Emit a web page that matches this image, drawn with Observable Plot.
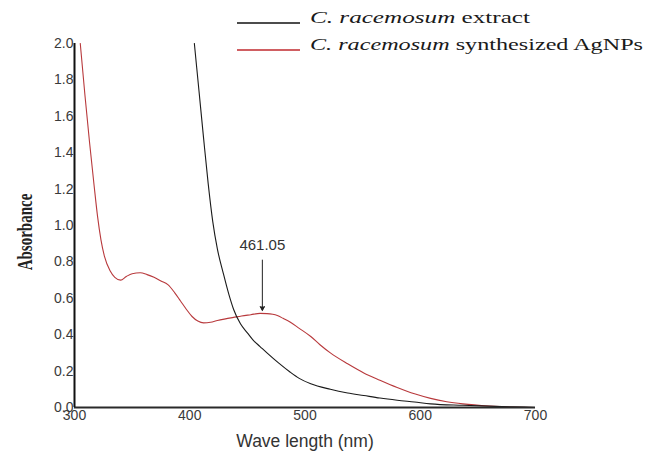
<!DOCTYPE html>
<html><head><meta charset="utf-8">
<script src="https://cdn.jsdelivr.net/npm/d3@7"></script>
<script src="https://cdn.jsdelivr.net/npm/@observablehq/plot@0.6"></script>
<style>
body{margin:0;background:#fff}
#chart{position:relative;width:659px;height:453px}
</style>
</head><body><div id="chart"></div>
<script>
// C. racemosum extract (black)
const extractWavelength = [404, 408, 412, 416, 420, 424, 429, 434, 438, 444, 450, 455, 461, 467, 477, 487, 495, 505, 522, 537, 551, 565, 580, 595, 609, 637, 665, 690, 700];
const extractAbsorbance = [2.0, 1.74, 1.48, 1.23, 1.02, 0.87, 0.74, 0.62, 0.54, 0.46, 0.41, 0.37, 0.335, 0.30, 0.245, 0.195, 0.16, 0.13, 0.10, 0.08, 0.066, 0.052, 0.04, 0.03, 0.02, 0.012, 0.006, 0.002, 0.0];
// C. racemosum synthesized AgNPs (red)
const agnpWavelength = [305, 309, 313, 317, 320, 323, 326, 331, 335, 340, 345, 350, 357, 363, 369, 375, 381, 387, 392, 397, 402, 407, 412, 418, 424, 431, 438, 445, 453, 461, 467, 472, 476, 481, 487, 495, 505, 513, 522, 537, 551, 565, 580, 595, 609, 623, 637, 660, 681, 700];
const agnpAbsorbance = [2.0, 1.72, 1.46, 1.22, 1.05, 0.92, 0.83, 0.75, 0.715, 0.70, 0.72, 0.735, 0.74, 0.73, 0.715, 0.695, 0.675, 0.63, 0.585, 0.54, 0.50, 0.475, 0.465, 0.468, 0.478, 0.487, 0.495, 0.503, 0.51, 0.517, 0.516, 0.512, 0.505, 0.49, 0.47, 0.435, 0.39, 0.345, 0.30, 0.24, 0.19, 0.15, 0.11, 0.075, 0.05, 0.032, 0.02, 0.008, 0.002, 0.0];

const xTicks = [300, 400, 500, 600, 700];
const yTicks = [0, 0.2, 0.4, 0.6, 0.8, 1.0, 1.2, 1.4, 1.6, 1.8, 2.0];
const xLabel = ["Wave length (nm)"];
const yLabel = "Absorbance";
const legendItalic = ["C. racemosum", "C. racemosum"];
const legendRest = [" extract", " synthesized AgNPs"];
const seriesColors = ["#1a1a1a", "#b8393c"];

const peakX = [463];
const peakArrowTop = [0.81];
const peakArrowTip = [0.535];
const peakLabelY = [0.89];
const peakLabel = ["461.05"];

const extract = extractWavelength.map((w, i) => ({w, a: extractAbsorbance[i]}));
const agnp = agnpWavelength.map((w, i) => ({w, a: agnpAbsorbance[i]}));
const peak = peakX.map((x, i) => ({x, y1: peakArrowTop[i], y2: peakArrowTip[i], ly: peakLabelY[i], t: peakLabel[i]}));

const chart = Plot.plot({
  width: 659,
  height: 453,
  marginLeft: 74,
  marginRight: 124,
  marginTop: 43,
  marginBottom: 46,
  style: {background: "#fff", fontFamily: "Liberation Sans, Arial, sans-serif"},
  x: {domain: [300, 700]},
  y: {domain: [0, 2]},
  marks: [
    Plot.axisX({ticks: xTicks, tickSize: 0, tickPadding: 3, fontSize: 14, fill: "#3a3a3a", label: null}),
    Plot.axisY({ticks: yTicks, tickSize: 0, tickPadding: 1, fontSize: 14, fill: "#3a3a3a", label: null, tickFormat: d3.format(".1f")}),
    Plot.line(agnp, {x: "w", y: "a", stroke: seriesColors[1], strokeWidth: 1.1, curve: "monotone-x", clip: true}),
    Plot.line(extract, {x: "w", y: "a", stroke: seriesColors[0], strokeWidth: 1.1, curve: "monotone-x", clip: true}),
    Plot.ruleY([0], {stroke: "#2a2a2a", strokeWidth: 2}),
    Plot.ruleX([300], {y1: 0, y2: 2, stroke: "#111", strokeWidth: 2}),
    Plot.arrow(peak, {x1: "x", x2: "x", y1: "y1", y2: "y2", stroke: "#222", strokeWidth: 1, headLength: 6}),
    Plot.dot(peak, {x: "x", y: "y2", symbol: "triangle2", rotate: 180, r: 2.5, fill: "#222", dy: -2}),
    Plot.text(peak, {x: "x", y: "ly", text: "t", fontSize: 15, fill: "#333"}),
    Plot.text(xLabel, {frameAnchor: "bottom", text: d => d, dy: 34, lineAnchor: "middle", fontSize: 17.5, fill: "#333"})
  ]
});

const svg = d3.select(chart);
// y axis label (condensed serif, rotated)
svg.append("text")
  .attr("transform", "translate(27,232) rotate(-90) scale(1,1.4)")
  .attr("text-anchor", "middle")
  .attr("dominant-baseline", "middle")
  .attr("font-family", "Liberation Serif, Times New Roman, serif")
  .attr("font-size", 15)
  .attr("font-weight", "bold")
  .attr("fill", "#222")
  .text(yLabel);

// legend
const legendY = [23, 50];
const legendWidths = [220, 333];
legendItalic.forEach((it, i) => {
  svg.append("line")
    .attr("x1", 237).attr("x2", 300)
    .attr("y1", legendY[i]).attr("y2", legendY[i])
    .attr("stroke", i === 0 ? "#111" : "#c0282e").attr("stroke-width", 1.3);
  const t = svg.append("text")
    .attr("x", 310).attr("y", legendY[i])
    .attr("text-anchor", "start")
    .attr("font-family", "Liberation Serif, Times New Roman, serif")
    .attr("font-size", 17)
    .attr("fill", "#1a1a1a")
    .attr("textLength", legendWidths[i])
    .attr("lengthAdjust", "spacingAndGlyphs");
  t.append("tspan").attr("font-style", "italic").text(it);
  t.append("tspan").text(legendRest[i]);
});

document.getElementById("chart").appendChild(chart);
</script>
</body></html>
